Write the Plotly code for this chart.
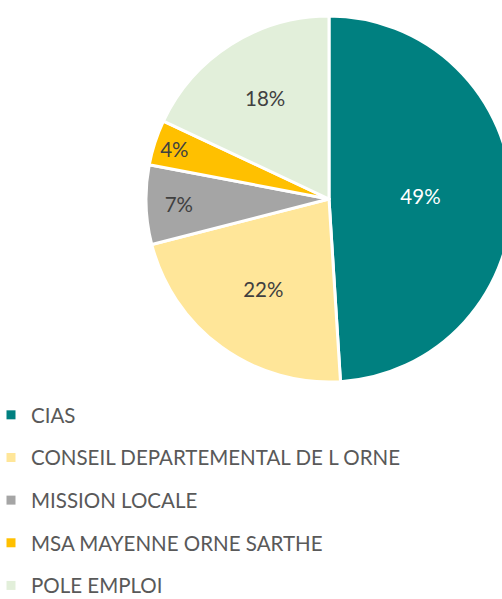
import plotly.graph_objects as go

labels = ["CIAS", "CONSEIL DEPARTEMENTAL DE L ORNE", "MISSION LOCALE",
          "MSA MAYENNE ORNE SARTHE", "POLE EMPLOI"]
values = [49, 22, 7, 4, 18]
colors = ["#008080", "#FFE699", "#A5A5A5", "#FFC000", "#E2EFDA"]
text_colors = ["#FFFFFF", "#404040", "#404040", "#404040", "#404040"]

W, H = 520, 599
cx, cy, r = 329, 199, 183

fig = go.Figure()
fig.add_trace(go.Pie(
    labels=labels, values=values, sort=False, direction="clockwise", rotation=0,
    marker=dict(colors=colors, line=dict(color="#FFFFFF", width=3)),
    textinfo="percent", textposition="inside", insidetextorientation="horizontal",
    textfont=dict(family="Lato", size=20.5, color=text_colors),
    showlegend=False, hoverinfo="label+percent",
    domain=dict(x=[(cx - r) / W, (cx + r) / W], y=[1 - (cy + r) / H, 1 - (cy - r) / H]),
))

for lab, col in zip(labels, colors):
    fig.add_trace(go.Scatter(
        x=[None], y=[None], mode="markers", name=lab, legendgroup=lab,
        marker=dict(symbol="square", size=9, color=col), showlegend=True,
    ))

fig.update_layout(
    width=W, height=H, margin=dict(l=0, r=0, t=0, b=0, autoexpand=False),
    paper_bgcolor="white", plot_bgcolor="white",
    xaxis=dict(visible=False), yaxis=dict(visible=False),
    legend=dict(x=-9 / W, xanchor="left", y=1 - 395 / H, yanchor="top",
                font=dict(family="Lato", size=20.5, color="#595959"),
                tracegroupgap=13.0, bgcolor="rgba(0,0,0,0)"),
    showlegend=True,
)

fig.write_html("out.html", config={"displayModeBar": False},
               post_script="document.body.style.margin='0';document.body.style.overflow='hidden';")
